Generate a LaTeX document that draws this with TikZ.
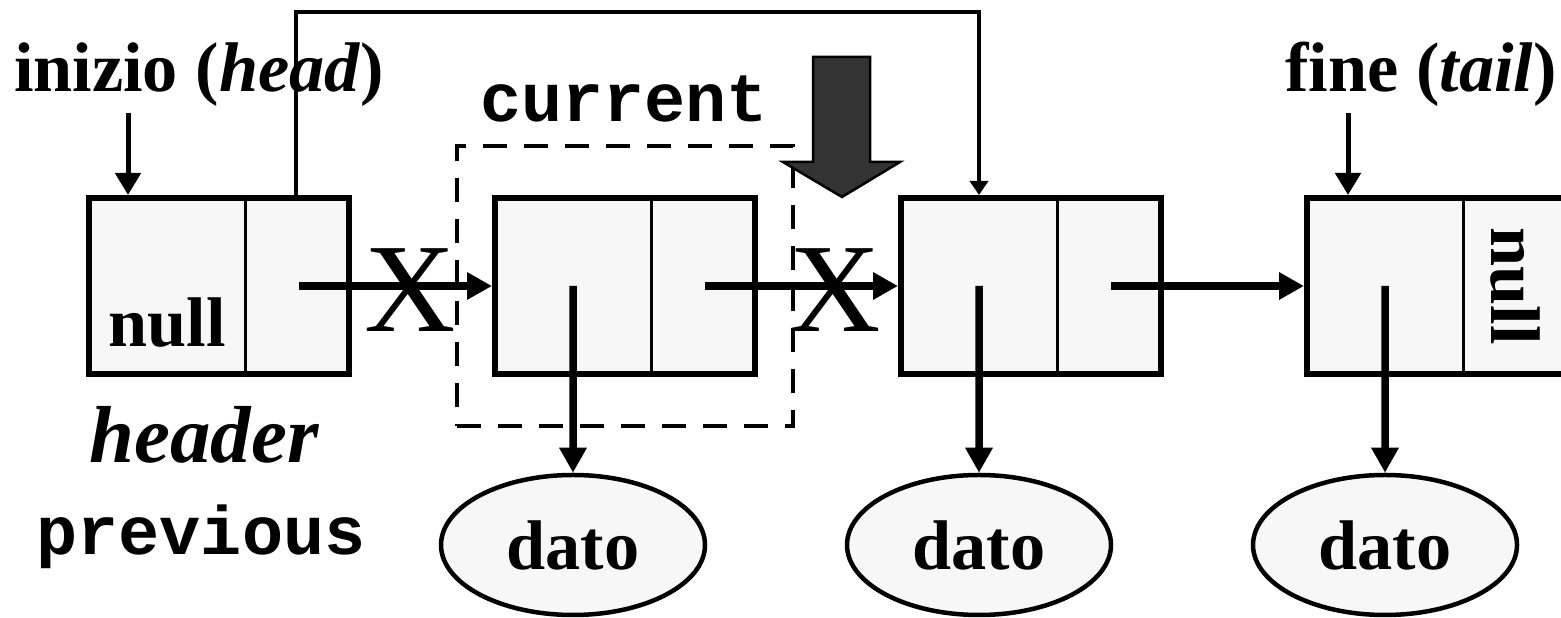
\documentclass[tikz,border=0pt]{standalone}
\usepackage{fontspec}
\setmainfont{Liberation Serif}
\setmonofont{Liberation Mono}
\usepackage{tikz}
\usetikzlibrary{arrows.meta,shapes.geometric,fit}
\tikzset{llcell/.style={draw, line width=0.6mm, fill=black!3, minimum width=26mm, minimum height=17.6mm, inner sep=0pt},
  llarrow/.style={-{Triangle[length=2.5mm,width=2.6mm]}, line width=0.75mm},
  lltail/.style={-{Triangle[length=2.2mm,width=2.5mm]}, line width=0.5mm},
  lldato/.style={draw, ellipse, line width=0.45mm, fill=black!3, minimum width=26.4mm, minimum height=14mm, inner sep=0pt, font=\fontsize{20}{24}\selectfont\bfseries},
  lltext/.style={font=\fontsize{20}{24}\selectfont\bfseries, inner sep=0pt},
  llcode/.style={font=\fontsize{19.5}{24}\selectfont\ttfamily\bfseries, inner sep=0pt},
  llcross/.style={font=\fontsize{36}{40}\selectfont, inner sep=0pt}}

\begin{document}
\begin{tikzpicture}[x=0.1mm, y=0.1mm]
\useasboundingbox (0,0) rectangle (1561,618);
\node[lltext, anchor=base] (inizio) at (199,526) {inizio (\textit{head})};
\node[lltext, anchor=base] (fine) at (1421,526) {fine (\textit{tail})};
\node[llcode, anchor=base] (current) at (624,496) {current};
\node[font=\fontsize{23}{28}\selectfont\bfseries\itshape, inner sep=0pt, anchor=base] (header) at (204,155) {header};
\node[llcode, anchor=base] (previous) at (201,63) {previous};
\node[llcell] (h) at (219,332) {};
\node[llcell] (n1) at (625,332) {};
\node[llcell] (n2) at (1031,332) {};
\node[llcell] (n3) at (1437,332) {};
\draw[line width=0.3mm] ([xshift=2.6mm]h.north) -- ([xshift=2.6mm]h.south);
\draw[line width=0.3mm] ([xshift=2.6mm]n1.north) -- ([xshift=2.6mm]n1.south);
\draw[line width=0.3mm] ([xshift=2.6mm]n2.north) -- ([xshift=2.6mm]n2.south);
\draw[line width=0.3mm] ([xshift=2.6mm]n3.north) -- ([xshift=2.6mm]n3.south);
\node[lltext, anchor=base] (hnull) at (167,271) {null};
\node[lltext, rotate=-90] (tnull) at (1515,332) {null};
\node[lldato] (d1) at (573,73) {dato};
\node[lldato] (d2) at (979,73) {dato};
\node[lldato] (d3) at (1385,73) {dato};
\draw[llarrow] ([xshift=-5.2mm]n1.center) -- (d1.north);
\draw[llarrow] ([xshift=-5.2mm]n2.center) -- (d2.north);
\draw[llarrow] ([xshift=-5.2mm]n3.center) -- (d3.north);
\draw[llarrow] ([xshift=8mm]h.center) -- (n1.west);
\draw[llarrow] ([xshift=8mm]n1.center) -- (n2.west);
\draw[llarrow] ([xshift=8mm]n2.center) -- (n3.west);
\node[llcross] (x1) at (410,328) {X};
\node[llcross] (x2) at (835,328) {X};
\node[draw, dash pattern=on 2.4mm off 1.7mm, line width=0.4mm, fit=(n1), inner xsep=3.5mm, inner ysep=4.9mm] (corrente) {};
\coordinate (pinizio) at (128,505);
\coordinate (pfine) at (1348,505);
\draw[lltail] (pinizio) -- (pinizio |- h.north);
\draw[lltail] (pfine) -- (pfine |- n3.north);
\draw[-{Triangle[length=1.4mm,width=1.8mm]}, line width=0.45mm] ([xshift=7.7mm]h.north) -- ++(0,183) -| ([xshift=-5.2mm]n2.north);
\draw[fill=black!80, line width=0.25mm] (813,561) -- (870,561) -- (870,456) -- (900,456) -- (842,421) -- (783,456) -- (813,456) -- cycle;
\end{tikzpicture}
\end{document}
